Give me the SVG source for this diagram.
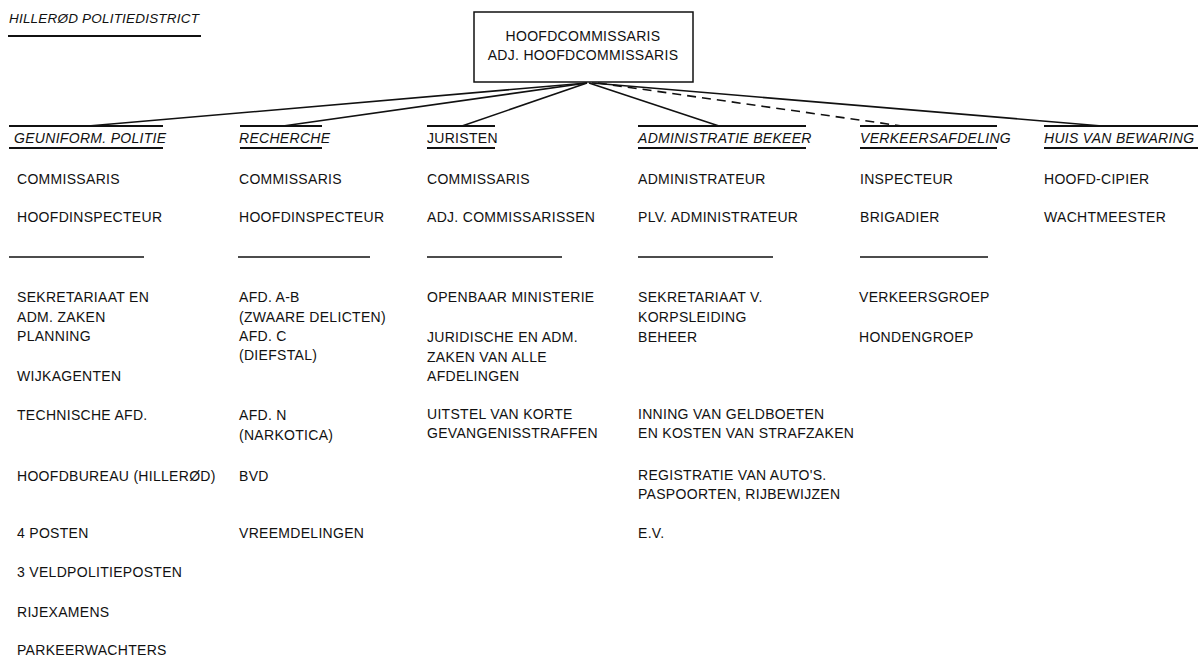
<svg xmlns="http://www.w3.org/2000/svg" width="1199" height="658" viewBox="0 0 1199 658">
<style>
text{font-family:"Liberation Sans",Arial,sans-serif;font-size:14px;fill:#111;letter-spacing:0.3px}
.it{font-style:italic}
.hl{stroke:#111;stroke-width:1.8;fill:none}
.sep{stroke:#111;stroke-width:1.3;fill:none}
.con{stroke:#111;stroke-width:1.6;fill:none}
.dash{stroke-dasharray:9,6}
</style>
<rect width="1199" height="658" fill="#fff"/>
<g id="title">
<text class="it" x="9" y="23" style="font-size:13.5px;letter-spacing:0.2px">HILLERØD POLITIEDISTRICT</text>
<line class="hl" x1="8" y1="36" x2="201" y2="36"/>
</g>
<g id="connectors">
<line class="con" x1="587" y1="83" x2="88" y2="126"/>
<line class="con" x1="587" y1="83" x2="283" y2="126"/>
<line class="con" x1="587" y1="83" x2="462" y2="126"/>
<line class="con" x1="589" y1="83" x2="719" y2="126"/>
<line class="con dash" x1="598" y1="83" x2="902" y2="126"/>
<line class="con" x1="592" y1="83" x2="1102" y2="126"/>
</g>
<g id="top">
<rect x="474" y="12" width="219" height="70" fill="#fff" stroke="#111" stroke-width="1.5"/>
<text x="583" y="41" text-anchor="middle">HOOFDCOMMISSARIS</text>
<text x="583" y="60" text-anchor="middle">ADJ. HOOFDCOMMISSARIS</text>
</g>
<g id="geuniform">
<line class="hl" x1="9" y1="126" x2="163" y2="126"/>
<text class="it" x="14" y="143">GEUNIFORM. POLITIE</text>
<line class="hl" x1="9" y1="148" x2="163" y2="148"/>
<text x="17" y="184">COMMISSARIS</text>
<text x="17" y="222">HOOFDINSPECTEUR</text>
<line class="sep" x1="9" y1="257" x2="144" y2="257"/>
<text x="17" y="302">SEKRETARIAAT EN</text>
<text x="17" y="322">ADM. ZAKEN</text>
<text x="17" y="341">PLANNING</text>
<text x="17" y="381">WIJKAGENTEN</text>
<text x="17" y="420">TECHNISCHE AFD.</text>
<text x="17" y="481">HOOFDBUREAU (HILLERØD)</text>
<text x="17" y="538">4 POSTEN</text>
<text x="17" y="577">3 VELDPOLITIEPOSTEN</text>
<text x="17" y="617">RIJEXAMENS</text>
<text x="17" y="655">PARKEERWACHTERS</text>
</g>
<g id="recherche">
<line class="hl" x1="240" y1="126" x2="322" y2="126"/>
<text class="it" x="239" y="143">RECHERCHE</text>
<line class="hl" x1="240" y1="148" x2="322" y2="148"/>
<text x="239" y="184">COMMISSARIS</text>
<text x="239" y="222">HOOFDINSPECTEUR</text>
<line class="sep" x1="238" y1="257" x2="370" y2="257"/>
<text x="239" y="302">AFD. A-B</text>
<text x="239" y="322">(ZWAARE DELICTEN)</text>
<text x="239" y="341">AFD. C</text>
<text x="239" y="360">(DIEFSTAL)</text>
<text x="239" y="420">AFD. N</text>
<text x="239" y="440">(NARKOTICA)</text>
<text x="239" y="481">BVD</text>
<text x="239" y="538">VREEMDELINGEN</text>
</g>
<g id="juristen">
<line class="hl" x1="427" y1="126" x2="495" y2="126"/>
<text x="427" y="143">JURISTEN</text>
<line class="hl" x1="427" y1="148" x2="495" y2="148"/>
<text x="427" y="184">COMMISSARIS</text>
<text x="427" y="222">ADJ. COMMISSARISSEN</text>
<line class="sep" x1="427" y1="257" x2="562" y2="257"/>
<text x="427" y="302">OPENBAAR MINISTERIE</text>
<text x="427" y="342">JURIDISCHE EN ADM.</text>
<text x="427" y="362">ZAKEN VAN ALLE</text>
<text x="427" y="381">AFDELINGEN</text>
<text x="427" y="419">UITSTEL VAN KORTE</text>
<text x="427" y="438">GEVANGENISSTRAFFEN</text>
</g>
<g id="administratie">
<line class="hl" x1="638" y1="126" x2="806" y2="126"/>
<text class="it" x="638" y="143">ADMINISTRATIE BEKEER</text>
<line class="hl" x1="638" y1="148" x2="806" y2="148"/>
<text x="638" y="184">ADMINISTRATEUR</text>
<text x="638" y="222">PLV. ADMINISTRATEUR</text>
<line class="sep" x1="638" y1="257" x2="773" y2="257"/>
<text x="638" y="302">SEKRETARIAAT V.</text>
<text x="638" y="322">KORPSLEIDING</text>
<text x="638" y="342">BEHEER</text>
<text x="638" y="419">INNING VAN GELDBOETEN</text>
<text x="638" y="438">EN KOSTEN VAN STRAFZAKEN</text>
<text x="638" y="480">REGISTRATIE VAN AUTO'S.</text>
<text x="638" y="499">PASPOORTEN, RIJBEWIJZEN</text>
<text x="638" y="538">E.V.</text>
</g>
<g id="verkeersafdeling">
<line class="hl" x1="860" y1="126" x2="997" y2="126"/>
<text class="it" x="860" y="143">VERKEERSAFDELING</text>
<line class="hl" x1="860" y1="148" x2="997" y2="148"/>
<text x="860" y="184">INSPECTEUR</text>
<text x="860" y="222">BRIGADIER</text>
<line class="sep" x1="860" y1="257" x2="988" y2="257"/>
<text x="859" y="302">VERKEERSGROEP</text>
<text x="859" y="342">HONDENGROEP</text>
</g>
<g id="huis">
<line class="hl" x1="1044" y1="126" x2="1198" y2="126"/>
<text class="it" x="1044" y="143">HUIS VAN BEWARING</text>
<line class="hl" x1="1044" y1="148" x2="1198" y2="148"/>
<text x="1044" y="184">HOOFD-CIPIER</text>
<text x="1044" y="222">WACHTMEESTER</text>
</g>
</svg>
